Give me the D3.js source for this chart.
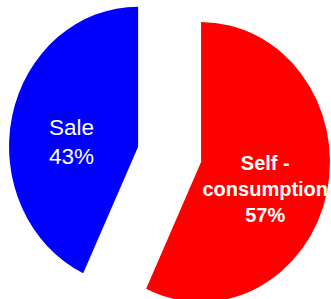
<!DOCTYPE html>
<html>
<head>
<meta charset="utf-8">
<script src="https://cdn.jsdelivr.net/npm/d3@7"></script>
<style>
html,body{margin:0;padding:0;background:#fff;}
svg{display:block;}
</style>
</head>
<body>
<svg id="chart" width="331" height="299"></svg>
<script>
// Data
const categories = ["Self-consumption", "Sale"];
const values = [57, 43];
const labelLines = [["Self -", "consumption", "57%"], ["Sale", "43%"]];
const colors = ["#ff0000", "#0000ff"];
const fontWeights = ["bold", "normal"];
const fontSizes = [20, 22.5];
const labelRadii = [0.51, 0.53];

const W = 331, H = 299;
const cx = 169.6, cy = 154.3;   // pie centre
const rx = 129, ry = 140;       // pie radii (slightly elliptical)
const explode = 0.25;           // offset of each slice, in radius units

const svg = d3.select("#chart");
const pie = d3.pie().sort(null).value(d => d)(values);
const arc = d3.arc().innerRadius(0).outerRadius(1);

const g = svg.append("g");
pie.forEach((p, i) => {
  const mid = (p.startAngle + p.endAngle) / 2;
  const ux = Math.sin(mid), uy = -Math.cos(mid);
  const vx = cx + ux * explode * rx, vy = cy + uy * explode * ry;
  g.append("path")
    .attr("d", arc(p))
    .attr("transform", `translate(${vx},${vy}) scale(${rx},${ry})`)
    .attr("fill", colors[i]);

  const lx = vx + ux * labelRadii[i] * rx;
  const ly = vy + uy * labelRadii[i] * ry + 11;
  const fs = fontSizes[i];
  const lh = fs * 1.3;
  const lines = labelLines[i];
  const t = g.append("text")
    .attr("text-anchor", "middle")
    .attr("fill", "#fff")
    .attr("font-family", "'Liberation Sans', Arial, sans-serif")
    .attr("font-size", fs)
    .attr("font-weight", fontWeights[i]);
  lines.forEach((ln, j) => {
    const off = (j - (lines.length - 1) / 2) * lh + fs * 0.36;
    t.append("tspan").attr("x", lx).attr("y", ly + off).text(ln);
  });
});
</script>
</body>
</html>
